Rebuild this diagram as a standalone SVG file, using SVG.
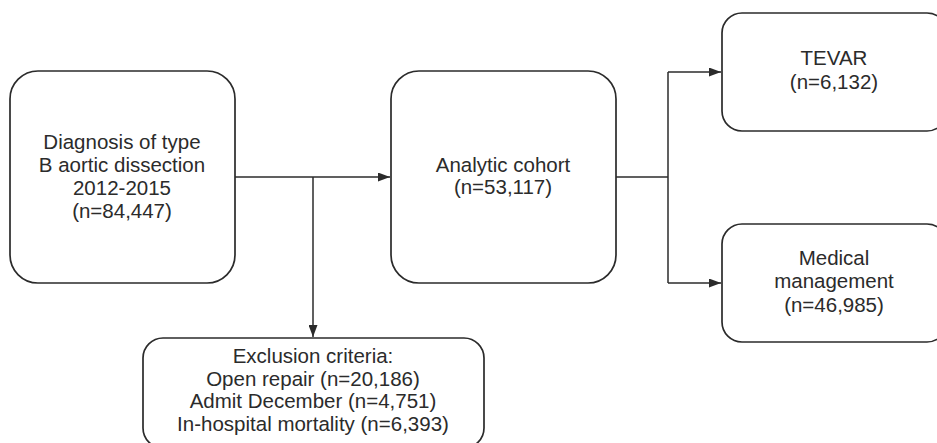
<svg xmlns="http://www.w3.org/2000/svg" width="937" height="443" viewBox="0 0 937 443">
<style>
.box{fill:#fff;stroke:#2b2b2b;stroke-width:1.7}
.t{font-family:"Liberation Sans",Arial,sans-serif;font-size:20.5px;fill:#2b2b2b;text-anchor:middle}
.c{fill:none;stroke:#2b2b2b;stroke-width:1.5}
</style>
<defs>
<marker id="ah" markerWidth="12" markerHeight="9" refX="12" refY="4.5" orient="auto" markerUnits="userSpaceOnUse">
<path d="M0,0 L12,4.5 L0,9 Z" fill="#2b2b2b"/>
</marker>
</defs>
<rect width="937" height="443" fill="#fff"/>
<g id="connectors">
<path class="c" d="M235,177 H390" marker-end="url(#ah)"/>
<path class="c" d="M313,177 V337" marker-end="url(#ah)"/>
<path class="c" d="M616,177 H668"/>
<path class="c" d="M668,72 V283"/>
<path class="c" d="M668,72 H721" marker-end="url(#ah)"/>
<path class="c" d="M668,283 H721" marker-end="url(#ah)"/>
</g>
<g id="diagnosis">
<rect class="box" x="10" y="71" width="225" height="212" rx="28"/>
<text class="t" x="122" y="149">Diagnosis of type</text>
<text class="t" x="122" y="172">B aortic dissection</text>
<text class="t" x="122" y="195">2012-2015</text>
<text class="t" x="122" y="218">(n=84,447)</text>
</g>
<g id="cohort">
<rect class="box" x="391" y="71" width="225" height="212" rx="28"/>
<text class="t" x="503" y="172">Analytic cohort</text>
<text class="t" x="503" y="194">(n=53,117)</text>
</g>
<g id="tevar">
<rect class="box" x="722" y="13" width="225" height="118" rx="20"/>
<text class="t" x="834" y="65">TEVAR</text>
<text class="t" x="834" y="89">(n=6,132)</text>
</g>
<g id="medical">
<rect class="box" x="722" y="224" width="225" height="118" rx="20"/>
<text class="t" x="834" y="265">Medical</text>
<text class="t" x="834" y="288">management</text>
<text class="t" x="834" y="312">(n=46,985)</text>
</g>
<g id="exclusion">
<rect class="box" x="143" y="338" width="341" height="110" rx="20"/>
<text class="t" x="313" y="363">Exclusion criteria:</text>
<text class="t" x="313" y="386">Open repair (n=20,186)</text>
<text class="t" x="313" y="408">Admit December (n=4,751)</text>
<text class="t" x="313" y="431">In-hospital mortality (n=6,393)</text>
</g>
</svg>
